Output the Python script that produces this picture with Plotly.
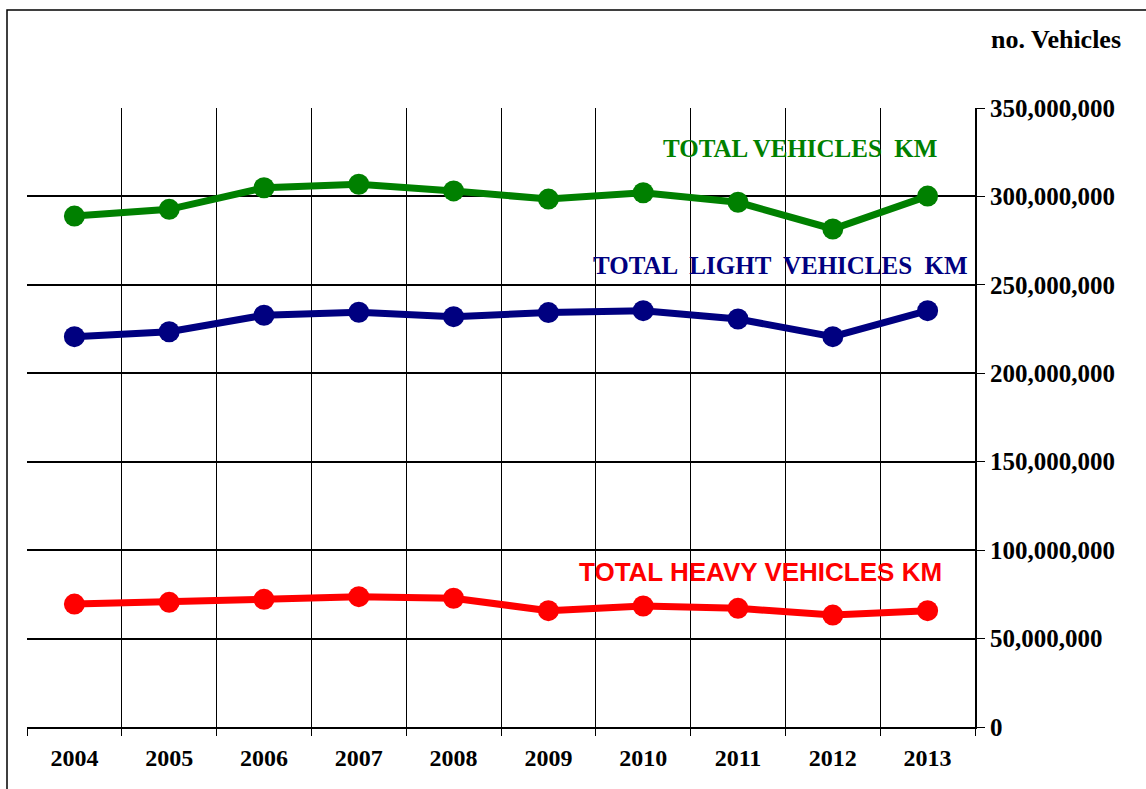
import plotly.graph_objects as go

# --- data ---
years = ["2004", "2005", "2006", "2007", "2008", "2009", "2010", "2011", "2012", "2013"]
total_km = [288.9e6, 292.7e6, 304.9e6, 306.9e6, 303.1e6, 298.5e6, 302.1e6, 296.7e6, 281.6e6, 300.2e6]
light_km = [220.7e6, 223.5e6, 232.8e6, 234.5e6, 232.0e6, 234.3e6, 235.4e6, 230.7e6, 220.7e6, 235.4e6]
heavy_km = [69.5e6, 70.5e6, 72.2e6, 73.7e6, 72.8e6, 65.8e6, 68.4e6, 67.1e6, 63.3e6, 65.8e6]
y_ticks = [0, 50e6, 100e6, 150e6, 200e6, 250e6, 300e6, 350e6]
y_labels = ["0", "50,000,000", "100,000,000", "150,000,000", "200,000,000",
            "250,000,000", "300,000,000", "350,000,000"]

W, H = 1146, 789
L, R, T, B = 27, 171, 108, 62
PW, PH = W - L - R, H - T - B

SERIF = "Liberation Serif, Times New Roman, serif"
SANS = "Liberation Sans, Arial, sans-serif"


def px(x, y):
    """pixel position -> paper coords"""
    return (x - L) / PW, 1 - (y - T) / PH


fig = go.Figure()
for vals, col in [(total_km, "#008000"), (light_km, "#000080"), (heavy_km, "#FF0000")]:
    fig.add_trace(go.Scatter(
        x=years, y=vals, mode="lines+markers",
        line=dict(color=col, width=7),
        marker=dict(size=21, color=col),
        showlegend=False, cliponaxis=False,
    ))

labels = [
    ("no. Vehicles", 1056, 39, "#000000", SERIF, 26),
    ("TOTAL VEHICLES  KM", 800, 148, "#008000", SERIF, 25),
    ("TOTAL  LIGHT  VEHICLES  KM", 780, 265, "#000080", SERIF, 25),
    ("TOTAL HEAVY VEHICLES KM", 760, 572, "#FF0000", SANS, 26),
]
for txt, x, y, col, fam, sz in labels:
    ax, ay = px(x, y)
    fig.add_annotation(
        text=txt, x=ax, y=ay, xref="paper", yref="paper",
        showarrow=False, xanchor="center", yanchor="middle",
        font=dict(family=fam, size=sz, color=col, weight="bold"),
    )

# outer frame
x0, y1 = px(7, 10)
x1, y0 = px(1160, 800)
fig.add_shape(type="rect", xref="paper", yref="paper",
              x0=x0, y0=y0, x1=x1, y1=y1,
              line=dict(color="#000000", width=1.5))

fig.update_xaxes(
    type="category", tickson="boundaries", range=[-0.5, len(years) - 0.5],
    showgrid=True, gridcolor="#000000", gridwidth=1,
    showline=True, linecolor="#000000", linewidth=2,
    ticks="outside", ticklen=7, tickcolor="#000000", tickwidth=1,
    tickfont=dict(family=SERIF, size=24, color="#000000", weight="bold"),
    ticklabelstandoff=8,
    zeroline=False,
)
fig.update_yaxes(
    side="right", range=[0, 350e6],
    tickvals=y_ticks, ticktext=y_labels,
    showgrid=True, gridcolor="#000000", gridwidth=1.5,
    showline=True, linecolor="#000000", linewidth=2,
    ticks="outside", ticklen=8, tickcolor="#000000", tickwidth=1,
    tickfont=dict(family=SERIF, size=25, color="#000000", weight="bold"),
    zeroline=False,
)
fig.update_layout(
    width=W, height=H,
    margin=dict(l=L, r=R, t=T, b=B),
    paper_bgcolor="#FFFFFF", plot_bgcolor="#FFFFFF",
)

fig.write_html("out.html", config={"displayModeBar": False},
               post_script="document.body.style.margin='0';")
